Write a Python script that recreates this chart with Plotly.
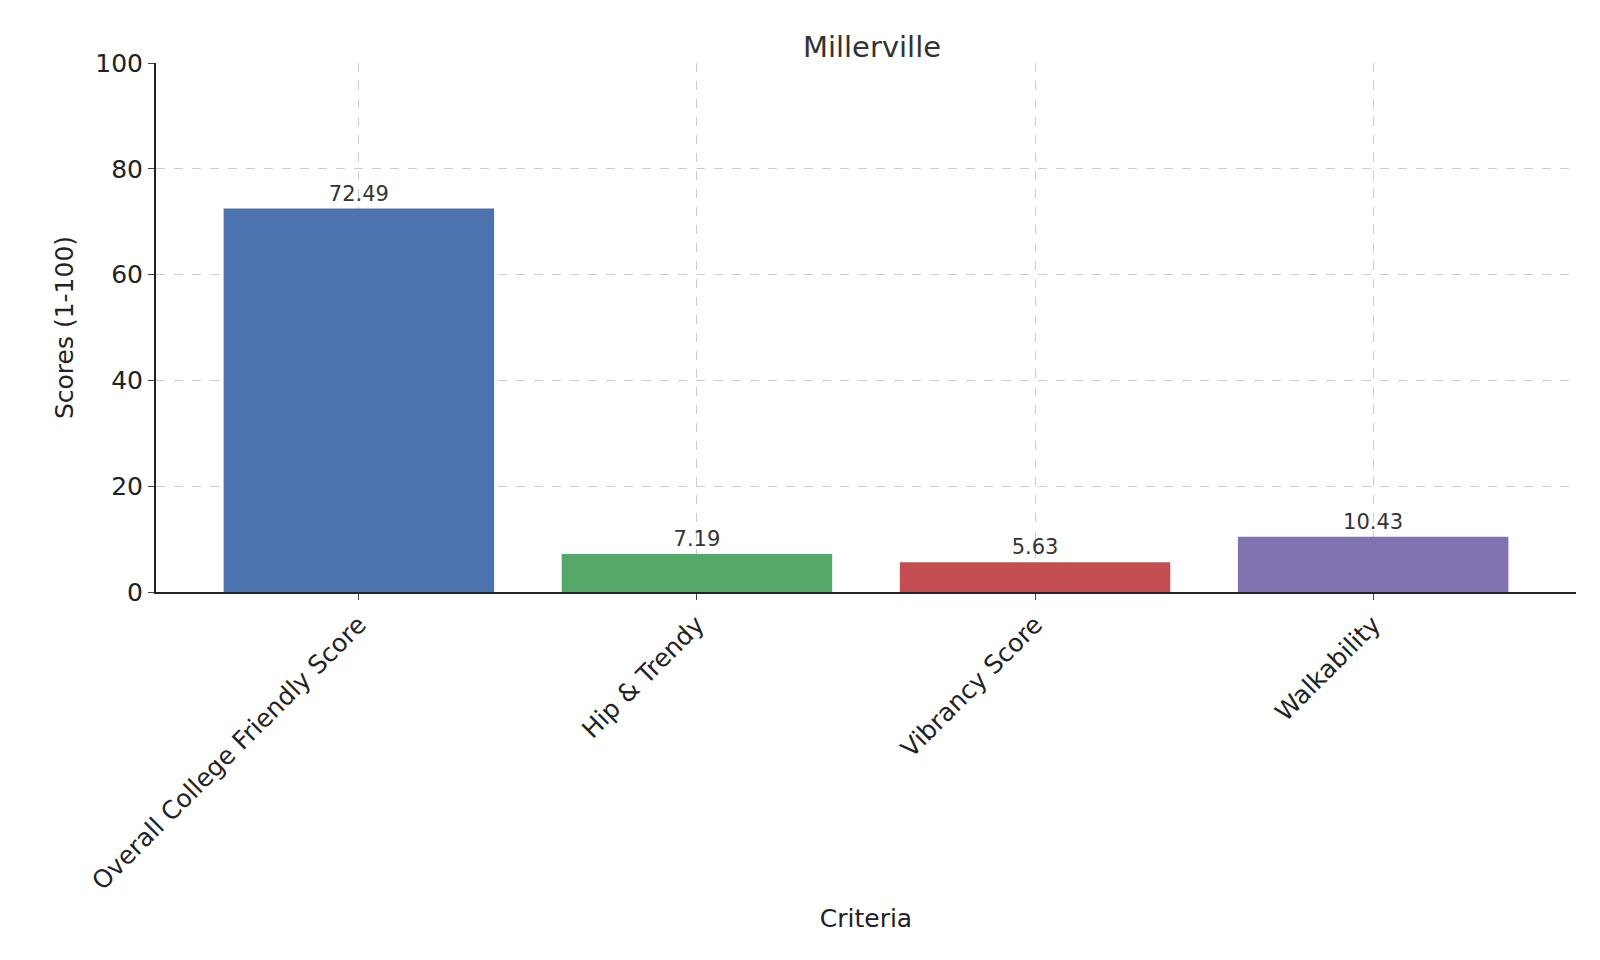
import plotly.graph_objects as go

categories = ["Overall College Friendly Score", "Hip & Trendy", "Vibrancy Score", "Walkability"]
scores = [72.49, 7.19, 5.63, 10.43]
colors = ["#4C72B0", "#55A868", "#C44E52", "#8172B2"]

fig = go.Figure(go.Bar(
    x=categories, y=scores, marker=dict(color=colors, line=dict(width=0)),
    width=0.8, text=[f"{v:.2f}" for v in scores], textposition="outside",
    textfont=dict(size=21, color="#333333"), cliponaxis=False,
))

fig.update_layout(
    width=1600, height=960,
    paper_bgcolor="white", plot_bgcolor="white",
    font=dict(family="DejaVu Sans", color="#222222"),
    title=dict(text="Millerville", x=0.54, xanchor="center", y=0.97, font=dict(size=29, color="#333333")),
    margin=dict(l=148, r=32, t=55, b=376),
    showlegend=False,
)
fig.update_xaxes(
    title=dict(text="Criteria", font=dict(size=25)), tickangle=-45, tickfont=dict(size=25),
    range=[-0.6, 3.6],
    showline=True, linecolor="#222222", linewidth=2, ticks="outside", ticklen=6,
    showgrid=True, gridcolor="#cccccc", griddash="dash", gridwidth=1,
)
fig.update_yaxes(
    title=dict(text="Scores (1-100)", font=dict(size=25)), range=[0, 100], dtick=20,
    tickfont=dict(size=25), showline=True, linecolor="#222222", linewidth=2,
    ticks="outside", ticklen=6, showgrid=True, gridcolor="#cccccc", griddash="dash",
    zeroline=False,
)

fig.write_html("out.html")
